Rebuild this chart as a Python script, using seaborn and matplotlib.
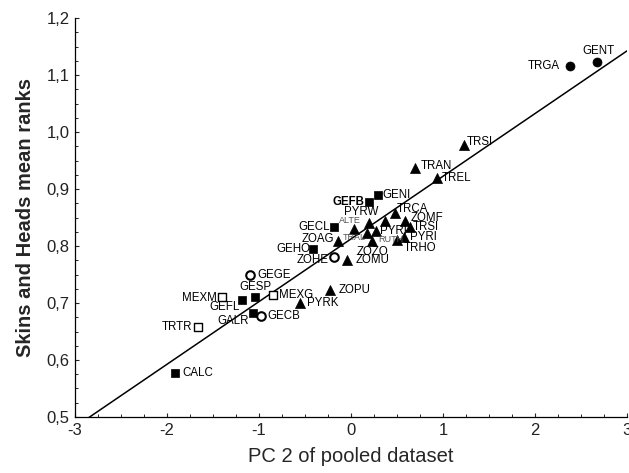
import pandas as pd
import matplotlib
matplotlib.use("Agg")
import matplotlib.pyplot as plt
import seaborn as sns
from matplotlib.ticker import MultipleLocator, FuncFormatter

# data
labels = ["GENT", "TRGA", "TRSI", "TRAN", "TREL", "GENI", "GEFB", "TRCA",
          "PYRW", "RUTH", "ZOMF", "TRSI", "ALTE", "TRAL", "PYRP", "ZOZO",
          "PYRI", "TRHO", "ZOAG", "GECL", "GEHO", "ZOHE", "ZOMU", "ZOPU",
          "GEGE", "MEXM", "GEFL", "GESP", "MEXG", "PYRK", "GALR", "GECB",
          "TRTR", "CALC"]
pc2 = [2.67, 2.38, 1.23, 0.70, 0.93, 0.29, 0.196, 0.478,
       0.196, 0.37, 0.587, 0.64, 0.033, 0.178, 0.268, 0.225,
       0.576, 0.50, -0.14, -0.19, -0.41, -0.19, -0.04, -0.23,
       -1.10, -1.405, -1.18, -1.04, -0.845, -0.554, -1.07, -0.98,
       -1.66, -1.91]
mean_rank = [1.122, 1.116, 0.977, 0.936, 0.919, 0.889, 0.878, 0.858,
             0.841, 0.843, 0.843, 0.834, 0.829, 0.823, 0.827, 0.809,
             0.815, 0.810, 0.808, 0.834, 0.794, 0.780, 0.775, 0.723,
             0.749, 0.711, 0.705, 0.710, 0.714, 0.700, 0.683, 0.677,
             0.658, 0.577]
group = ["circle", "circle", "triangle", "triangle", "triangle", "square", "square", "triangle",
         "triangle", "triangle", "triangle", "triangle", "triangle", "triangle", "triangle", "triangle",
         "triangle", "triangle", "triangle", "square", "square", "open_circle", "triangle", "triangle",
         "open_circle", "open_square", "square", "square", "open_square", "triangle", "square", "open_circle",
         "open_square", "square"]
small_labels = ["ALTE", "TRAL", "RUTH"]

# label placement (pixel offsets from marker, alignment)
label_pos = [(2, 11, "center"), (-10, 0, "right"), (3, 3, "left"), (5, 2, "left"),
             (5, 0, "left"), (5, 0, "left"), (-5, 0, "right"), (2, 4, "left"),
             (-8, 11, "center"), (-7, -18, "left"), (6, 3, "left"), (3, 0, "left"),
             (-4, 9, "center"), (-2, -5, "right"), (4, 0, "left"), (1, -11, "center"),
             (6, 0, "left"), (7, -8, "left"), (-4, 2, "right"), (-4, 0, "right"),
             (-3, 0, "right"), (-5, -3, "right"), (8, 0, "left"), (9, 0, "left"),
             (8, 0, "left"), (-5, -1, "right"), (-3, -7, "right"), (0, 10, "center"),
             (6, 0, "left"), (7, 0, "left"), (-4, -8, "right"), (7, 0, "left"),
             (-6, 0, "right"), (7, 0, "left")]

df = pd.DataFrame({"label": labels, "pc2": pc2, "rank": mean_rank, "group": group})

sns.set_style("ticks")
plt.rcParams["font.family"] = ["Liberation Sans", "DejaVu Sans"]

fig = plt.figure(figsize=(6.29, 4.73), dpi=100)
ax = fig.add_axes([0.1192, 0.1184, 0.8776, 0.8435])

styles = {
    "square": dict(marker="s", color="black", s=32, linewidth=0.5),
    "triangle": dict(marker="^", color="black", s=52, linewidth=0.5),
    "circle": dict(marker="o", color="black", s=42, linewidth=0.5),
    "open_circle": dict(marker="o", color="white", s=38, linewidth=1.5),
    "open_square": dict(marker="s", color="white", s=26, linewidth=1.0),
}
for g, st in styles.items():
    sub = df[df["group"] == g]
    sns.scatterplot(data=sub, x="pc2", y="rank", edgecolor="black", ax=ax,
                    zorder=3, legend=False, **st)

ax.set_xlim(-3, 3)
sns.regplot(data=df, x="pc2", y="rank", scatter=False, ci=None, truncate=False,
            color="black", line_kws={"lw": 1.1, "zorder": 2}, ax=ax)
ax.set_xlim(-3, 3)
ax.set_ylim(0.5, 1.2)

for i, row in df.iterrows():
    dx, dy, ha = label_pos[i]
    fs = 6.5 if row["label"] in small_labels else 8.3
    weight = "bold" if row["label"] == "GEFB" else "normal"
    color = "#555555" if row["label"] in small_labels else "black"
    ax.annotate(row["label"], (row["pc2"], row["rank"]), xytext=(dx, dy),
                textcoords="offset pixels", ha=ha, va="center", color=color,
                fontsize=fs, fontweight=weight, zorder=4)

ax.xaxis.set_major_locator(MultipleLocator(1))
ax.xaxis.set_minor_locator(MultipleLocator(0.25))
ax.yaxis.set_major_locator(MultipleLocator(0.1))
ax.yaxis.set_minor_locator(MultipleLocator(0.025))
ax.yaxis.set_major_formatter(FuncFormatter(lambda v, p: f"{v:.1f}".replace(".", ",")))
ax.xaxis.set_major_formatter(FuncFormatter(lambda v, p: f"{v:.0f}"))
ax.tick_params(which="major", direction="in", length=3, width=0.8, labelsize=12,
               labelcolor="#222222", pad=4)
ax.tick_params(which="minor", direction="in", length=2, width=0.7)

sns.despine(ax=ax)
for sp in ["left", "bottom"]:
    ax.spines[sp].set_linewidth(0.9)
    ax.spines[sp].set_color("black")

ax.set_xlabel("PC 2 of pooled dataset", fontsize=14.5, labelpad=7)
ax.set_ylabel("Skins and Heads mean ranks", fontsize=14.5, fontweight="bold", labelpad=8)

fig.savefig("out.png", dpi=100)
